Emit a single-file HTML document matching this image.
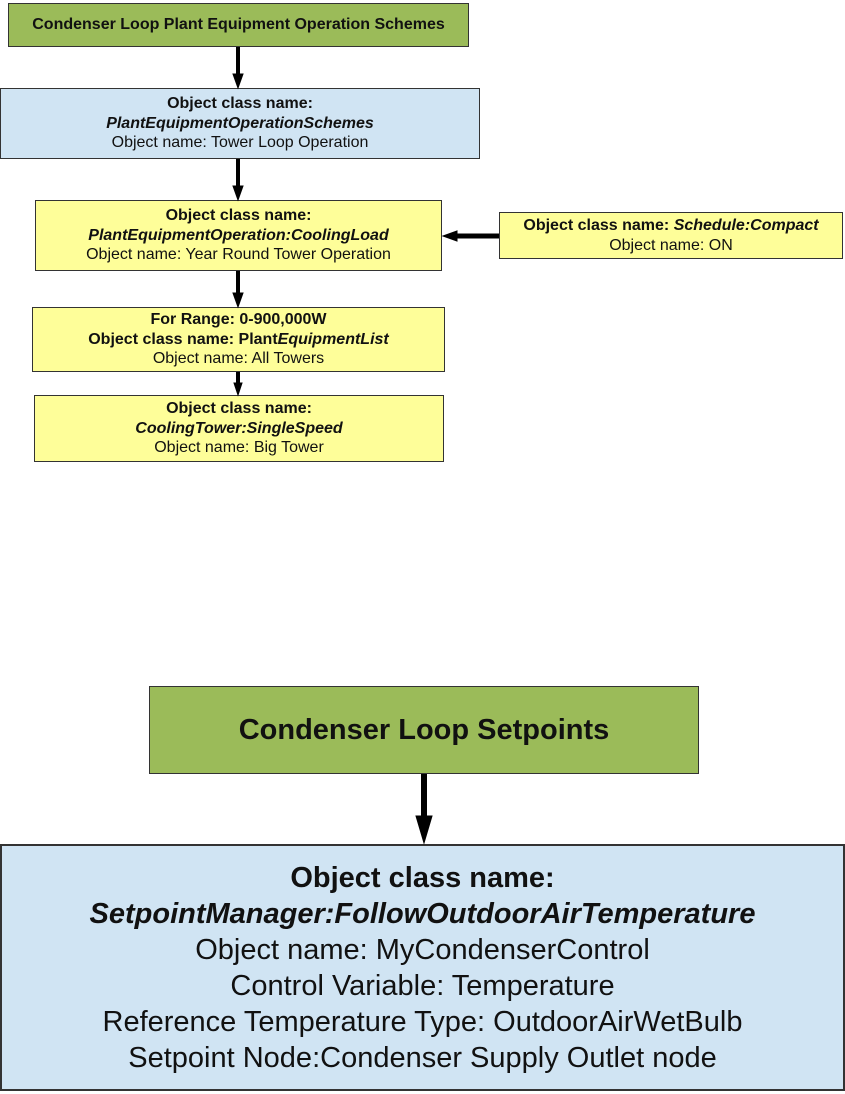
<!DOCTYPE html>
<html><head><meta charset="utf-8"><style>
body{margin:0;width:845px;height:1094px;background:#fff;position:relative;overflow:hidden;font-family:"Liberation Sans",Arial,sans-serif;color:#111}
.b{position:absolute;box-sizing:border-box;border:1.5px solid #333;display:flex;flex-direction:column;justify-content:center;align-items:center;text-align:center;font-size:16px;line-height:19.5px;white-space:nowrap}
.g{background:#9bbb59}.bl{background:#d0e4f3}.y{background:#fefe99}
.s{font-size:29px;line-height:36px}
svg{position:absolute;left:0;top:0}
</style></head><body>
<div class="b g" style="left:8px;top:3px;width:461px;height:44px;font-weight:bold;font-size:16px">Condenser Loop Plant Equipment Operation Schemes</div>
<div class="b bl" style="left:0;top:88px;width:480px;height:71px"><b>Object class name:</b><b><i>PlantEquipmentOperationSchemes</i></b><span>Object name: Tower Loop Operation</span></div>
<div class="b y" style="left:35px;top:200px;width:407px;height:71px"><b>Object class name:</b><b><i>PlantEquipmentOperation:CoolingLoad</i></b><span>Object name: Year Round Tower Operation</span></div>
<div class="b y" style="left:499px;top:212px;width:344px;height:47px"><span><b>Object class name: <i>Schedule:Compact</i></b></span><span>Object name: ON</span></div>
<div class="b y" style="left:32px;top:307px;width:413px;height:65px"><b>For Range: 0-900,000W</b><b>Object class name: Plant<i>EquipmentList</i></b><span>Object name: All Towers</span></div>
<div class="b y" style="left:34px;top:395px;width:410px;height:67px"><b>Object class name:</b><b><i>CoolingTower:SingleSpeed</i></b><span>Object name: Big Tower</span></div>

<div class="b g s" style="left:149px;top:686px;width:550px;height:88px;font-weight:bold">Condenser Loop Setpoints</div>
<div class="b bl s" style="left:0;top:844px;width:845px;height:247px;border-width:2px"><b>Object class name:</b><b><i>SetpointManager:FollowOutdoorAirTemperature</i></b><span>Object name: MyCondenserControl</span><span>Control Variable: Temperature</span><span>Reference Temperature Type: OutdoorAirWetBulb</span><span>Setpoint Node:Condenser Supply Outlet node</span></div>

<svg width="845" height="1094">
<g stroke="#000" stroke-width="4" fill="#000">
<line x1="238" y1="47" x2="238" y2="76"/><polygon points="233,74 243,74 238,88" stroke-width="1"/>
<line x1="238" y1="159" x2="238" y2="188"/><polygon points="233,186 243,186 238,200" stroke-width="1"/>
<line x1="238" y1="271" x2="238" y2="295"/><polygon points="233,293 243,293 238,307" stroke-width="1"/>
<line x1="238" y1="372" x2="238" y2="385"/><polygon points="234,383 242,383 238,395" stroke-width="1"/>
<line x1="499" y1="236" x2="455" y2="236" stroke-width="5"/><polygon points="457,231 457,241 443,236" stroke-width="1"/>
<line x1="424" y1="774" x2="424" y2="820" stroke-width="6"/><polygon points="416,816 432,816 424,843" stroke-width="1"/>
</g></svg>
</body></html>
